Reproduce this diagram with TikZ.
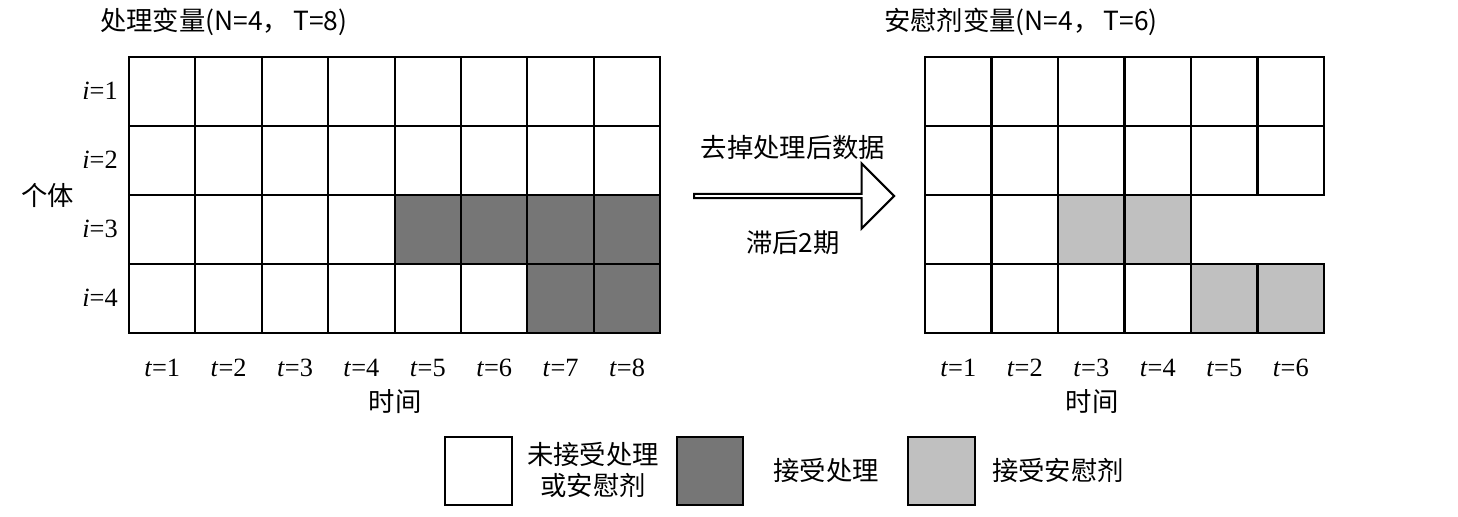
\documentclass[tikz,border=0pt]{standalone}
\usepackage{fontspec}
\setmainfont{Liberation Serif}
\newfontfamily\cjk{Noto Sans CJK SC}
\usetikzlibrary{positioning,shapes.arrows}
\definecolor{darkcell}{RGB}{118,118,118}
\definecolor{lightcell}{RGB}{192,192,192}
\tikzset{
  cell/.style = {draw=black, line width=1.2pt},
  lbl/.style  = {font=\fontsize{15}{17}\selectfont, inner sep=1pt},
  zh/.style   = {font=\cjk\fontsize{15}{18}\selectfont, inner sep=1pt, align=center},
}
\begin{document}
\begin{tikzpicture}[x=0.02cm, y=-0.02cm]
  \useasboundingbox (0,0) rectangle (1458,517);

  % left grid: treatment
  \foreach \c in {0,...,7}
    \foreach \r in {0,...,3}
      \draw[cell] (129+\c*66.4,57+\r*69) rectangle ++(66.4,69);
  \foreach \c/\r in {4/2,5/2,6/2,7/2,6/3,7/3}
    \draw[cell, fill=darkcell] (129+\c*66.4,57+\r*69) rectangle ++(66.4,69);

  % right grid: placebo
  \foreach \c in {0,...,5}
    \foreach \r in {0,1,3}
      \draw[cell] (925+\c*66.5,57+\r*69) rectangle ++(66.5,69);
  \foreach \c in {0,...,3}
    \draw[cell] (925+\c*66.5,195) rectangle ++(66.5,69);
  \foreach \c/\r in {2/2,3/2,4/3,5/3}
    \draw[cell, fill=lightcell] (925+\c*66.5,57+\r*69) rectangle ++(66.5,69);

  % titles and axis labels
  \node[zh, anchor=west] (ltitle) at (98,22) {处理变量({\itshape N}=4，\,{\itshape T}=8)};
  \node[zh, anchor=west] (rtitle) at (882,22) {安慰剂变量({\itshape N}=4，\,{\itshape T}=6)};
  \foreach \r in {1,...,4}
    \node[lbl] (i\r) at (100,22+\r*69) {\textit{i}=\r};
  \node[zh] (unit) at (48,195) {个体};
  \foreach \c in {1,...,8}
    \node[lbl] (lt\c) at (95.8+\c*66.4,368) {\textit{t}=\c};
  \foreach \c in {1,...,6}
    \node[lbl] (rt\c) at (891.8+\c*66.5,368) {\textit{t}=\c};
  \node[zh] (ltime) at (395,402) {时间};
  \node[zh] (rtime) at (1092,402) {时间};

  % hollow arrow
  \node[single arrow, draw=black, line width=1.2pt, minimum width=65\pgflinewidth,
        minimum height=200*0.02cm, single arrow head extend=0.3cm,
        single arrow head indent=0pt, inner sep=0pt, minimum width=1.3cm] (shift) at (793,196) {};
  \node[zh] (drop) at (793,148) {去掉处理后数据};
  \node[zh] (lag) at (793,243) {滞后2期};

  % legend
  \draw[cell] (445,437) rectangle (512,505);
  \node[zh] (lg1) at (593,470) {未接受处理\\或安慰剂};
  \draw[cell, fill=darkcell] (677,437) rectangle (743,505);
  \node[zh] (lg2) at (826,470) {接受处理};
  \draw[cell, fill=lightcell] (908,437) rectangle (975,505);
  \node[zh] (lg3) at (1058,470) {接受安慰剂};
\end{tikzpicture}
\end{document}
